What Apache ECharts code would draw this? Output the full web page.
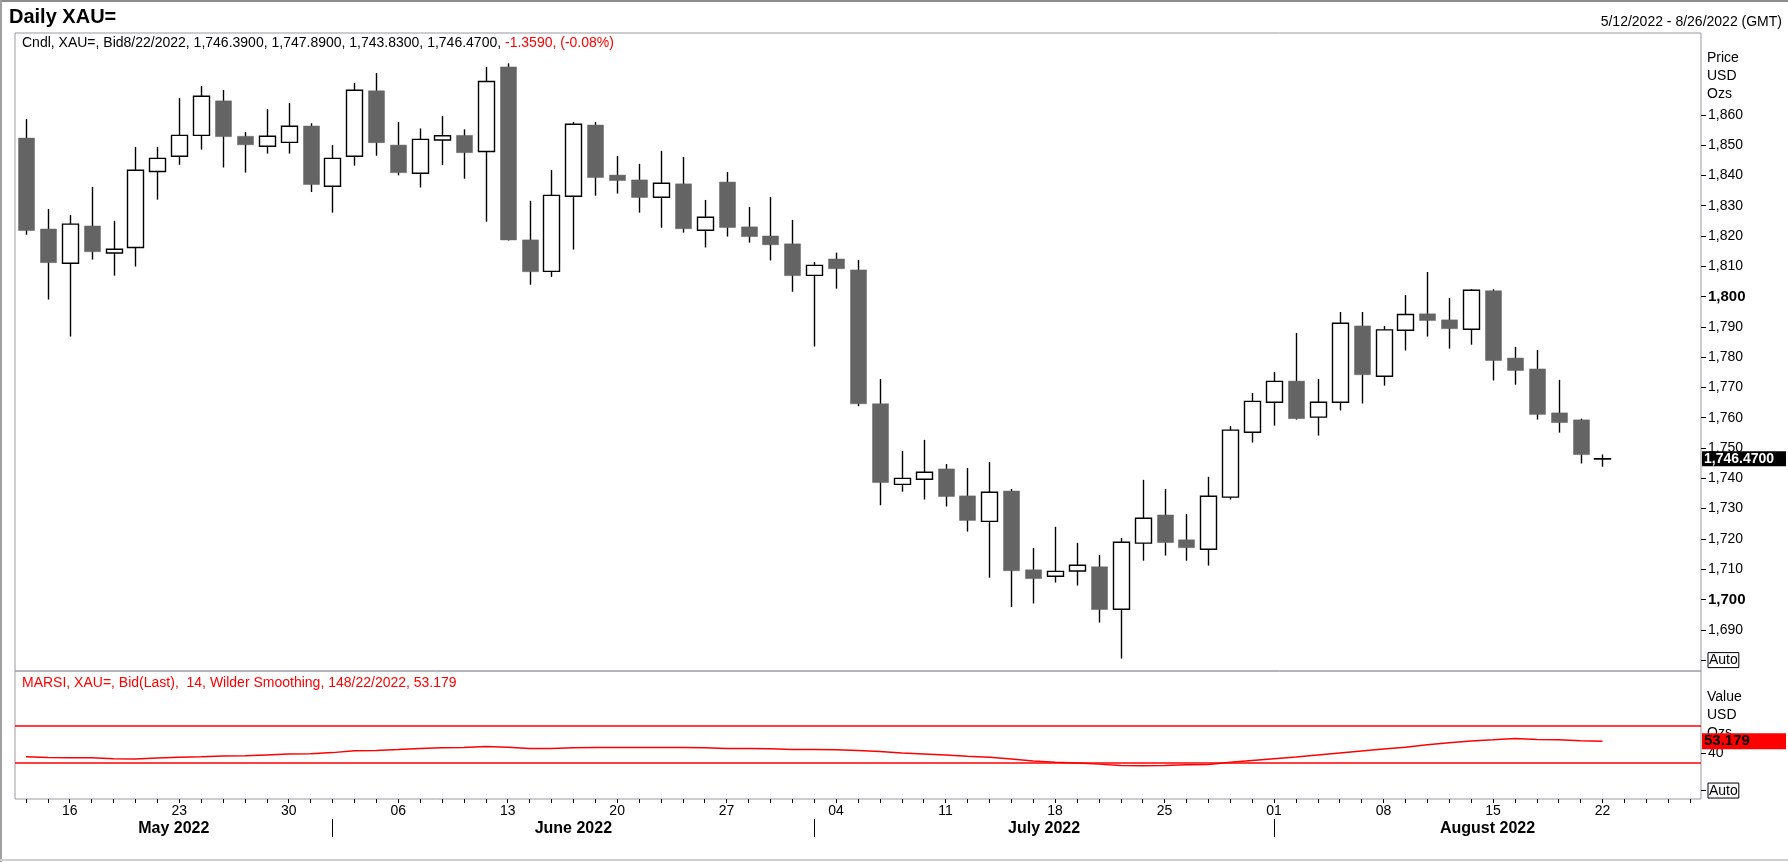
<!DOCTYPE html>
<html>
<head>
<meta charset="utf-8">
<script src="https://cdn.jsdelivr.net/npm/echarts@6.0.0/dist/echarts.min.js"></script>
<style>
html,body{margin:0;padding:0;background:#fff;}
#chart{width:1788px;height:862px;}
</style>
</head>
<body>
<div id="chart"></div>
<script>
// ---------------- DATA ----------------
const dates = [
 '2022-05-12','2022-05-13','2022-05-16','2022-05-17','2022-05-18','2022-05-19','2022-05-20',
 '2022-05-23','2022-05-24','2022-05-25','2022-05-26','2022-05-27','2022-05-30','2022-05-31',
 '2022-06-01','2022-06-02','2022-06-03','2022-06-06','2022-06-07','2022-06-08','2022-06-09','2022-06-10',
 '2022-06-13','2022-06-14','2022-06-15','2022-06-16','2022-06-17','2022-06-20','2022-06-21','2022-06-22',
 '2022-06-23','2022-06-24','2022-06-27','2022-06-28','2022-06-29','2022-06-30',
 '2022-07-01','2022-07-04','2022-07-05','2022-07-06','2022-07-07','2022-07-08','2022-07-11','2022-07-12',
 '2022-07-13','2022-07-14','2022-07-15','2022-07-18','2022-07-19','2022-07-20','2022-07-21','2022-07-22',
 '2022-07-25','2022-07-26','2022-07-27','2022-07-28','2022-07-29',
 '2022-08-01','2022-08-02','2022-08-03','2022-08-04','2022-08-05','2022-08-08','2022-08-09','2022-08-10',
 '2022-08-11','2022-08-12','2022-08-15','2022-08-16','2022-08-17','2022-08-18','2022-08-19','2022-08-22',
 '2022-08-23','2022-08-24','2022-08-25','2022-08-26'
];

const openP = [
 1852.3,1822.3,1811.0,1823.3,1814.4,1816.2,1841.3,1846.3,1853.2,1864.6,1852.9,1849.6,1850.9,1856.3,
 1836.4,1846.3,1867.9,1850.0,1840.7,1851.7,1853.2,1847.9,1875.8,1818.7,1808.3,1833.1,1856.6,1840.1,
 1838.5,1832.8,1837.2,1821.9,1837.8,1823.0,1820.0,1817.4,1807.0,1812.4,1808.8,1764.6,1738.0,1739.7,
 1743.1,1734.2,1725.8,1735.8,1709.8,1707.7,1709.4,1710.8,1696.8,1718.6,1727.9,1719.7,1716.6,1733.8,
 1755.2,1765.1,1772.1,1760.2,1765.1,1790.3,1773.7,1788.9,1794.3,1792.3,1789.2,1801.9,1779.7,1776.1,
 1761.6,1759.3,1746.39
];
const highP = [
 1858.6,1828.9,1826.9,1836.2,1825.0,1849.4,1849.4,1865.5,1869.5,1868.2,1854.3,1861.9,1863.9,1857.2,
 1850.0,1870.5,1873.8,1857.6,1855.5,1859.6,1855.2,1875.8,1877.0,1831.6,1841.8,1857.6,1857.6,1846.4,
 1843.8,1848.1,1846.1,1831.9,1841.1,1829.6,1832.9,1825.3,1811.4,1814.5,1812.1,1772.8,1749.0,1752.7,
 1744.7,1743.4,1745.4,1736.5,1717.0,1724.0,1718.7,1714.7,1720.3,1739.5,1736.5,1728.2,1740.5,1757.3,
 1768.2,1775.1,1788.0,1772.8,1794.9,1794.9,1790.3,1800.5,1808.1,1799.5,1802.4,1802.4,1783.4,1782.4,
 1772.5,1759.7,1747.89
];
const lowP = [
 1820.4,1799.0,1786.8,1812.2,1806.9,1809.9,1832.0,1843.5,1848.5,1842.6,1840.9,1847.2,1847.2,1834.5,
 1827.7,1843.2,1846.5,1840.0,1836.0,1843.4,1838.9,1824.7,1818.5,1803.9,1806.5,1815.5,1833.3,1834.0,
 1827.7,1822.7,1821.1,1816.2,1819.8,1817.8,1811.9,1801.6,1783.5,1802.6,1763.8,1731.1,1735.6,1733.0,
 1730.7,1722.4,1707.2,1697.5,1698.7,1705.6,1704.6,1692.4,1680.5,1712.8,1714.5,1712.8,1711.2,1733.0,
 1751.8,1757.4,1759.4,1754.1,1762.4,1764.7,1770.6,1782.2,1786.8,1782.8,1784.1,1772.3,1770.9,1759.4,
 1755.1,1744.9,1743.83
];
const closeP = [
 1821.8,1811.2,1823.9,1814.8,1815.6,1841.7,1845.6,1853.2,1866.1,1852.8,1850.1,1852.9,1856.2,1837.0,
 1845.6,1868.1,1850.8,1840.9,1851.9,1853.1,1847.5,1871.0,1818.7,1808.2,1833.4,1856.9,1839.3,1838.3,
 1832.7,1837.4,1822.4,1826.2,1822.8,1819.8,1817.1,1806.9,1810.3,1809.2,1764.6,1738.6,1740.0,1742.0,
 1734.0,1726.1,1735.4,1709.5,1706.9,1709.3,1711.3,1696.7,1718.9,1726.8,1718.8,1717.1,1734.1,1755.9,
 1765.4,1772.0,1759.7,1765.1,1791.2,1774.2,1789.0,1794.1,1792.1,1789.4,1802.1,1778.9,1775.6,1761.1,
 1758.4,1747.829,1746.47
];

const rsi = [
 36.5,35.6,35.5,35.4,34.2,34.0,35.1,36.0,36.4,37.2,37.5,38.4,39.3,39.7,40.9,42.8,43.3,44.2,45.3,46.2,
 46.5,47.5,46.6,45.4,45.3,46.2,46.5,46.4,46.4,46.3,46.4,46.2,45.4,45.3,45.2,44.4,44.2,44.0,43.1,42.0,
 40.5,39.5,38.4,36.9,35.8,34.0,31.8,30.4,29.6,28.5,27.1,26.7,27.1,27.8,28.2,30.4,32.5,34.4,36.2,38.4,
 40.5,42.7,44.9,46.7,49.3,51.5,53.3,54.7,56.2,55.1,54.7,53.6,53.179
];

const priceTicks = [1680,1690,1700,1710,1720,1730,1740,1750,1760,1770,1780,1790,1800,1810,1820,1830,1840,1850,1860];
const boldPriceTicks = [1700,1800];
const autoPriceTick = 1680;
const rsiTicks = [0,40];
const autoRsiTick = 0;
const rsiLevels = [70,30];
const monthNames = ['January','February','March','April','May','June','July','August','September','October','November','December'];

// ---------------- HELPERS ----------------
const FF = "'Liberation Sans', Arial, sans-serif";
function fmtNum(v, d){
  const s = Math.abs(v).toFixed(d).split('.');
  s[0] = s[0].replace(/\B(?=(\d{3})+(?!\d))/g, ',');
  return (v < 0 ? '-' : '') + s.join(d ? '.' : '');
}
function isMonday(ds){ return new Date(ds + 'T00:00:00Z').getUTCDay() === 1; }

// month boundaries (derived from dates)
const sepVals = [];
const monthSpans = [];
let start = 0;
for (let i = 1; i < dates.length; i++) {
  if (dates[i].slice(5,7) !== dates[i-1].slice(5,7)) {
    sepVals.push(i + 0.5);
    monthSpans.push({from:start, to:i + 0.5, m:+dates[i-1].slice(5,7), y:dates[i-1].slice(0,4)});
    start = i + 0.5;
  }
}
monthSpans.push({from:start, to:dates.length, m:+dates[dates.length-1].slice(5,7), y:dates[dates.length-1].slice(0,4)});
const monthCenters = monthSpans.map(s => (s.from + s.to) / 2);

const candleData = openP.map((o, i) => [i, o, closeP[i], lowP[i], highP[i]]);
const n = closeP.length;
const lastC = closeP[n-1], prevC = closeP[n-2];
const chg = lastC - prevC;
const lastDate = dates[n-1];
const lastDateStr = (+lastDate.slice(5,7)) + '/' + (+lastDate.slice(8,10)) + '/' + lastDate.slice(0,4);
const firstDateStr = (+dates[0].slice(5,7)) + '/' + (+dates[0].slice(8,10)) + '/' + dates[0].slice(0,4);
const endD = dates[dates.length-1];
const endDateStr = (+endD.slice(5,7)) + '/' + (+endD.slice(8,10)) + '/' + endD.slice(0,4);

const legendMain = 'Cndl, XAU=, Bid' + lastDateStr + ', ' + fmtNum(openP[n-1],4) + ', ' + fmtNum(highP[n-1],4) + ', ' +
  fmtNum(lowP[n-1],4) + ', ' + fmtNum(lastC,4) + ', ';
const legendChg = chg.toFixed(4) + ', (' + (chg / prevC * 100).toFixed(2) + '%)';
const rsiLast = rsi[rsi.length-1];
const legendRsi = 'MARSI, XAU=, Bid(Last),  14, Wilder Smoothing, 14' + lastDateStr + ', ' + rsiLast.toFixed(3);

function renderCandle(params, api){
  const i = api.value(0), o = api.value(1), c = api.value(2), l = api.value(3), h = api.value(4);
  const po = api.coord([i, o]), pc = api.coord([i, c]), pl = api.coord([i, l]), ph = api.coord([i, h]);
  const bw = Math.round(api.size([1, 0])[0] * 0.75);
  const x = Math.round(po[0]) + 0.5;
  const top = Math.min(po[1], pc[1]), bot = Math.max(po[1], pc[1]);
  const up = c >= o;
  return {
    type: 'group',
    children: [
      {type:'line', shape:{x1:x, y1:ph[1], x2:x, y2:pl[1]}, style:{stroke:'#000', lineWidth:1.4}},
      {type:'rect', shape:{x:x - bw/2, y:top, width:bw, height:Math.max(bot - top, 0.3)},
       style: up ? {fill:'#fff', stroke:'#000', lineWidth:1.4} : {fill:'#646464', stroke:'#646464', lineWidth:0.5}}
    ]
  };
}

// ---------------- CHART ----------------
const chart = echarts.init(document.getElementById('chart'), null, {renderer:'canvas'});
const option = {
  animation: false,
  backgroundColor: '#fff',
  textStyle: {fontFamily: FF},
  grid: [
    {left:15, right:87, top:33, height:638, show:true, borderColor:'#9a9aa2', borderWidth:1, backgroundColor:'rgba(0,0,0,0)'},
    {left:15, right:87, top:671, height:128, show:true, borderColor:'#9a9aa2', borderWidth:1, backgroundColor:'rgba(0,0,0,0)'}
  ],
  xAxis: [
    {type:'category', gridIndex:0, data:dates, boundaryGap:true,
     axisLine:{show:false, onZero:false}, axisTick:{show:false}, axisLabel:{show:false}, splitLine:{show:false}},
    {type:'category', gridIndex:1, data:dates, boundaryGap:true,
     axisLine:{show:false, onZero:false}, splitLine:{show:false},
     axisTick:{show:true, interval:0, alignWithLabel:true, length:4, lineStyle:{color:'#000', width:1}},
     axisLabel:{interval:(idx, val) => isMonday(val), formatter:v => v.slice(8,10),
                fontSize:14, color:'#000', margin:5, fontFamily:FF}},
    {type:'value', gridIndex:1, min:0, max:dates.length, position:'bottom', offset:20,
     axisLine:{show:false, onZero:false}, splitLine:{show:false},
     axisTick:{show:true, customValues:sepVals, length:18, lineStyle:{color:'#000', width:1}},
     axisLabel:{customValues:monthCenters, margin:2, fontSize:16, fontWeight:'bold', color:'#000', fontFamily:FF,
       formatter:v => {
         const k = monthCenters.findIndex(c => Math.abs(c - v) < 1e-6);
         const s = monthSpans[k < 0 ? 0 : k];
         return monthNames[s.m - 1] + ' ' + s.y;
       }}}
  ],
  yAxis: [
    {type:'value', gridIndex:0, position:'right', min:1676.4, max:1887,
     axisLine:{show:false, onZero:false}, splitLine:{show:false},
     axisTick:{show:true, customValues:priceTicks, length:5, lineStyle:{color:'#000', width:1}},
     axisLabel:{customValues:priceTicks, margin:7, fontSize:14, color:'#000', fontFamily:FF,
       formatter:v => v === autoPriceTick ? '{auto|Auto}' :
                      (boldPriceTicks.indexOf(v) >= 0 ? '{b|' + fmtNum(v,0) + '}' : fmtNum(v,0)),
       rich:{b:{fontWeight:'bold', fontSize:15, color:'#000', fontFamily:FF},
             auto:{borderColor:'#000', borderWidth:1, padding:[1,1,0,1], fontSize:14, color:'#000', fontFamily:FF}}}},
    {type:'value', gridIndex:1, position:'right', min:-9.1, max:128.9,
     axisLine:{show:false, onZero:false}, splitLine:{show:false},
     axisTick:{show:true, customValues:rsiTicks, length:5, lineStyle:{color:'#000', width:1}},
     axisLabel:{customValues:rsiTicks, margin:7, fontSize:14, color:'#000', fontFamily:FF,
       formatter:v => v === autoRsiTick ? '{auto|Auto}' : String(v),
       rich:{auto:{borderColor:'#000', borderWidth:1, padding:[1,1,0,1], fontSize:14, color:'#000', fontFamily:FF}}}}
  ],
  series: [
    {type:'custom', name:'Cndl', xAxisIndex:0, yAxisIndex:0, data:candleData, renderItem:renderCandle,
     encode:{x:0, y:[1,2,3,4]}, clip:true, z:3, silent:true},
    {type:'line', name:'last', xAxisIndex:0, yAxisIndex:0, data:closeP, symbol:'none', silent:true,
     lineStyle:{color:'rgba(0,0,0,0)', width:0}, z:5,
     markLine:{silent:true, symbol:['none','none'], animation:false,
       lineStyle:{color:'rgba(0,0,0,0)', width:0},
       label:{show:true, position:'end', distance:1, formatter:fmtNum(lastC,4),
              color:'#fff', backgroundColor:'#000', fontWeight:'bold', fontSize:14, fontFamily:FF,
              padding:[1,2,0,2], width:80, lineHeight:14},
       data:[{yAxis:lastC}]}},
    {type:'line', name:'MARSI', xAxisIndex:1, yAxisIndex:1, data:rsi, symbol:'none', silent:true,
     lineStyle:{color:'#ff0000', width:1.5}, z:4},
    {type:'line', name:'levels', xAxisIndex:1, yAxisIndex:1, data:rsi, symbol:'none', silent:true,
     lineStyle:{color:'rgba(0,0,0,0)', width:0}, z:4,
     markLine:{silent:true, symbol:['none','none'], animation:false,
       lineStyle:{color:'#ff0000', width:1.5, type:'solid'}, label:{show:false},
       data: rsiLevels.map(v => ({yAxis:v}))}},
    {type:'line', name:'rsiLast', xAxisIndex:1, yAxisIndex:1, data:rsi, symbol:'none', silent:true,
     lineStyle:{color:'rgba(0,0,0,0)', width:0}, z:6,
     markLine:{silent:true, symbol:['none','none'], animation:false,
       lineStyle:{color:'rgba(0,0,0,0)', width:0},
       label:{show:true, position:'end', distance:1, formatter:rsiLast.toFixed(3),
              color:'#000', backgroundColor:'#ff0000', fontWeight:'bold', fontSize:15, fontFamily:FF,
              padding:[1,2,0,2], width:80, lineHeight:15},
       data:[{yAxis:rsiLast}]}}
  ],
  graphic: [
    {type:'line', shape:{x1:0, y1:1, x2:1788, y2:1}, style:{stroke:'#8c8c8c', lineWidth:2}, silent:true},
    {type:'line', shape:{x1:1, y1:0, x2:1, y2:862}, style:{stroke:'#a0a0a0', lineWidth:2}, silent:true},
    {type:'line', shape:{x1:0, y1:860, x2:1788, y2:860}, style:{stroke:'#cfcfcf', lineWidth:2}, silent:true},
    {type:'text', style:{x:9, y:17, text:'Daily XAU=', fill:'#000', font:'bold 20px ' + FF, verticalAlign:'middle'}, silent:true},
    {type:'text', style:{x:1782, y:22, text:firstDateStr + ' - ' + endDateStr + ' (GMT)', fill:'#000', font:'14px ' + FF, align:'right', verticalAlign:'middle'}, silent:true},
    {type:'text', style:{x:22, y:43, text:legendMain + '{r|' + legendChg + '}', fill:'#000', font:'14px ' + FF, verticalAlign:'middle',
       rich:{r:{fill:'#ff0000', font:'14px ' + FF}}}, silent:true},
    {type:'text', style:{x:22, y:683, text:legendRsi, fill:'#ff0000', font:'14px ' + FF, verticalAlign:'middle'}, silent:true},
    {type:'text', style:{x:1707, y:58, text:'Price', fill:'#000', font:'14px ' + FF, verticalAlign:'middle'}, silent:true},
    {type:'text', style:{x:1707, y:76, text:'USD', fill:'#000', font:'14px ' + FF, verticalAlign:'middle'}, silent:true},
    {type:'text', style:{x:1707, y:94, text:'Ozs', fill:'#000', font:'14px ' + FF, verticalAlign:'middle'}, silent:true},
    {type:'text', style:{x:1707, y:697, text:'Value', fill:'#000', font:'14px ' + FF, verticalAlign:'middle'}, silent:true},
    {type:'text', style:{x:1707, y:715, text:'USD', fill:'#000', font:'14px ' + FF, verticalAlign:'middle'}, silent:true},
    {type:'text', style:{x:1707, y:733, text:'Ozs', fill:'#000', font:'14px ' + FF, verticalAlign:'middle'}, silent:true}
  ]
};
chart.setOption(option);
</script>
</body>
</html>
